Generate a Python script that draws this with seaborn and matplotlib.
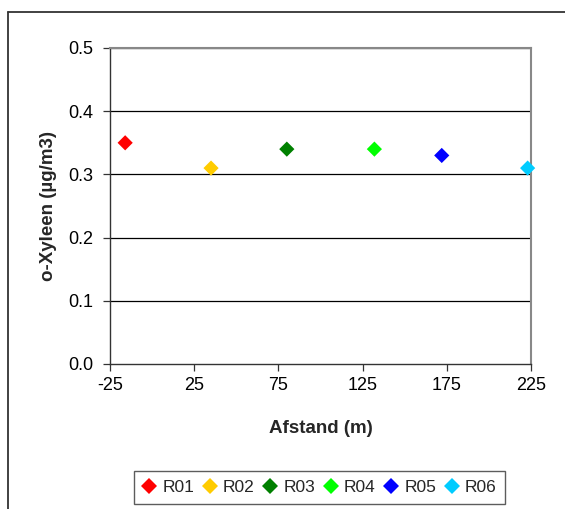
import matplotlib
matplotlib.use("Agg")
import matplotlib.pyplot as plt
import seaborn as sns
import pandas as pd
from matplotlib.lines import Line2D

sites = ["R01", "R02", "R03", "R04", "R05", "R06"]
afstand = [-16, 35, 80, 132, 172, 223]
xyleen = [0.35, 0.31, 0.34, 0.34, 0.33, 0.31]
colors = ["#FF0000", "#FFCC00", "#008000", "#00FF00", "#0000FF", "#00CCFF"]
x_ticks = [-25, 25, 75, 125, 175, 225]
y_ticks = [0.0, 0.1, 0.2, 0.3, 0.4, 0.5]

df = pd.DataFrame({"site": sites, "afstand": afstand, "xyleen": xyleen})

sns.set_theme(style="white")
plt.rcParams["font.family"] = ["Liberation Sans", "DejaVu Sans"]

fig = plt.figure(figsize=(5.65, 5.09), dpi=100)
ax = fig.add_axes([110/565, 1-364/509, 421/565, 316/509])

for y in y_ticks[1:]:
    ax.axhline(y, color="#000000", lw=0.9, zorder=1)

sns.scatterplot(data=df, x="afstand", y="xyleen", hue="site", palette=colors,
                marker="D", s=60, linewidth=0, ax=ax, zorder=3, clip_on=False)

ax.set_xlim(-25, 225)
ax.set_ylim(0, 0.5)
ax.set_xticks(x_ticks)
ax.set_xticklabels([str(v) for v in x_ticks])
ax.set_yticks(y_ticks)
ax.set_yticklabels([f"{v:.1f}" for v in y_ticks])
ax.tick_params(axis="both", labelsize=13, length=5, width=0.9, direction="out",
               colors="#333333", labelcolor="black", bottom=True, left=True)
ax.tick_params(axis="y", pad=7)
ax.tick_params(axis="x", pad=4)
for s in ["left", "bottom"]:
    ax.spines[s].set_color("#333333")
    ax.spines[s].set_linewidth(1.0)
for s in ["top", "right"]:
    ax.spines[s].set_color("#888888")
    ax.spines[s].set_linewidth(1.5)

ax.set_xlabel("Afstand (m)", fontsize=13.5, fontweight="bold", labelpad=19)
ax.set_ylabel("o-Xyleen (µg/m3)", fontsize=13.5, fontweight="bold", labelpad=8)

sns.move_legend(ax, "upper center", bbox_to_anchor=(319.5/565, 1-471/509),
                bbox_transform=fig.transFigure, ncol=6, title=None,
                frameon=True, fontsize=12.5, handletextpad=0.35, handlelength=0.8,
                columnspacing=0.5, borderpad=0.5, borderaxespad=0, fancybox=False)
leg = ax.get_legend()
leg.get_frame().set_edgecolor("#333333")
leg.get_frame().set_linewidth(1.0)
for h in leg.legend_handles:
    h.set_marker("D")

fig.add_artist(Line2D([8/565, 1.0], [1-12/509, 1-12/509], transform=fig.transFigure,
                      color="#333333", lw=1.3))
fig.add_artist(Line2D([8/565, 8/565], [1-12/509, 0], transform=fig.transFigure,
                      color="#333333", lw=1.3))

fig.savefig("out.png", dpi=100)
